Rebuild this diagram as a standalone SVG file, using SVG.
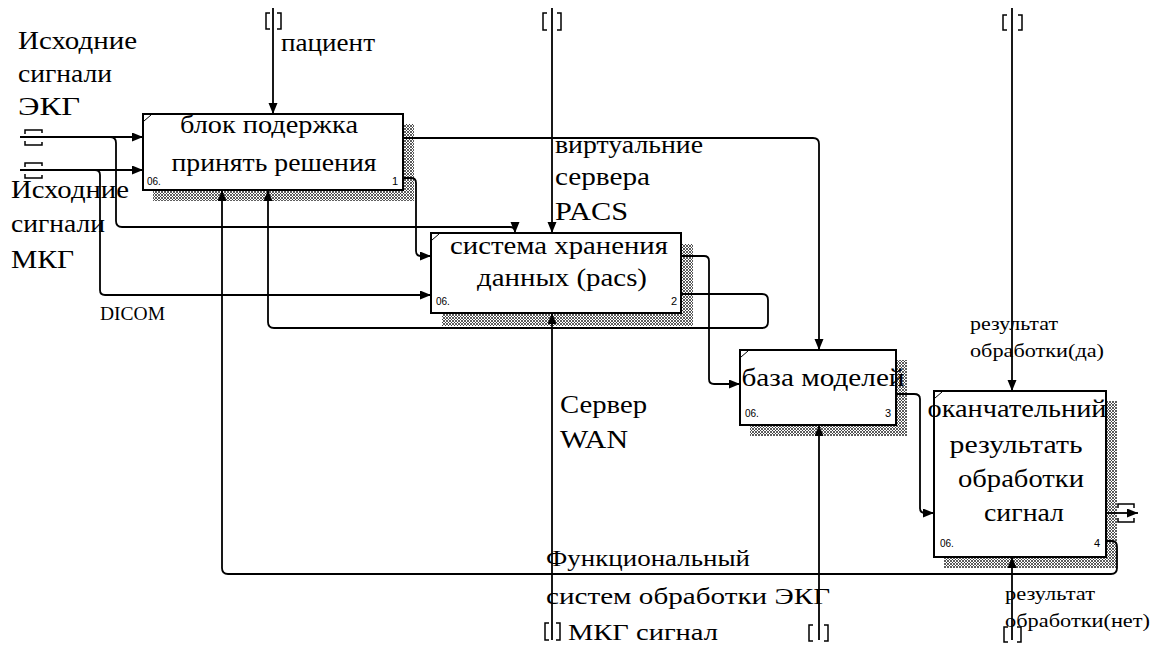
<svg xmlns="http://www.w3.org/2000/svg" width="1155" height="645" viewBox="0 0 1155 645">
<style>
.box{fill:#fff;stroke:#000;stroke-width:2}
.sh{fill:url(#hatch)}
.tick{stroke:#000;stroke-width:1;fill:none}
.ln{fill:none;stroke:#000;stroke-width:1.8}
.br{fill:none;stroke:#000;stroke-width:1.5}
.t{font-family:"Liberation Serif","Times New Roman",serif;font-size:25px;fill:#000}
.tb{font-family:"Liberation Serif","Times New Roman",serif;font-size:25px;fill:#000;text-anchor:middle}
.tm{font-family:"Liberation Serif","Times New Roman",serif;font-size:23px;fill:#000}
.ts{font-family:"Liberation Serif","Times New Roman",serif;font-size:19px;fill:#000}
.tn{font-family:"Liberation Sans",Arial,sans-serif;font-size:10px;fill:#000}
.te{font-family:"Liberation Sans",Arial,sans-serif;font-size:11px;fill:#000;text-anchor:end}
</style>
<defs>
<pattern id="hatch" width="3" height="3" patternUnits="userSpaceOnUse">
<rect width="3" height="3" fill="#fff"/>
<path d="M0,0L3,3M3,0L0,3" stroke="#333" stroke-width="0.8"/>
</pattern>
<marker id="ah" markerUnits="userSpaceOnUse" markerWidth="12" markerHeight="10" refX="11" refY="4.5" orient="auto">
<path d="M0,0L11,4.5L0,9z" fill="#000"/>
</marker>
</defs>

<g id="node1">
<rect class="sh" x="153" y="124" width="261" height="77"/>
<rect class="box" x="143" y="114" width="260" height="76"/>
<path class="tick" d="M144,121L151,115"/>
<text class="tb" x="269" y="133" textLength="178" lengthAdjust="spacingAndGlyphs">блок подержка</text>
<text class="tb" x="274" y="171" textLength="205" lengthAdjust="spacingAndGlyphs">принять решения</text>
<text class="tn" x="147" y="185">06.</text>
<text class="te" x="398" y="185">1</text>
</g>

<g id="node2">
<rect class="sh" x="442" y="244" width="251" height="82"/>
<rect class="box" x="431" y="233" width="250" height="80"/>
<path class="tick" d="M432,240L439,234"/>
<text class="tb" x="559" y="254" textLength="218" lengthAdjust="spacingAndGlyphs">система хранения</text>
<text class="tb" x="562" y="286" textLength="170" lengthAdjust="spacingAndGlyphs">данных (pacs)</text>
<text class="tn" x="436" y="305">06.</text>
<text class="te" x="677" y="305">2</text>
</g>

<g id="node3">
<rect class="sh" x="750" y="360" width="157" height="76"/>
<rect class="box" x="740" y="350" width="156" height="75"/>
<path class="tick" d="M741,357L748,351"/>
<text class="tb" x="823" y="386" textLength="163" lengthAdjust="spacingAndGlyphs">база моделей</text>
<text class="tn" x="745" y="417">06.</text>
<text class="te" x="891" y="417">3</text>
</g>

<g id="node4">
<rect class="sh" x="944" y="401" width="173" height="167"/>
<rect class="box" x="934" y="391" width="172" height="166"/>
<path class="tick" d="M935,398L942,392"/>
<text class="tb" x="1017" y="417" textLength="179" lengthAdjust="spacingAndGlyphs">оканчательний</text>
<text class="tb" x="1016" y="453" textLength="133" lengthAdjust="spacingAndGlyphs">результать</text>
<text class="tb" x="1021" y="487" textLength="126" lengthAdjust="spacingAndGlyphs">обработки</text>
<text class="tb" x="1024" y="521" textLength="80" lengthAdjust="spacingAndGlyphs">сигнал</text>
<text class="tn" x="940" y="547">06.</text>
<text class="te" x="1100" y="547">4</text>
</g>

<g id="connectors">
<path class="ln" d="M20,137H143" marker-end="url(#ah)"/>
<path class="ln" d="M20,170H143" marker-end="url(#ah)"/>
<path class="ln" d="M110,137Q116,137 116,143V221Q116,227 122,227H510Q515,227 515,232V233" marker-end="url(#ah)"/>
<path class="ln" d="M95,170Q100,170 100,175V290Q100,295 105,295H431" marker-end="url(#ah)"/>
<path class="ln" d="M403,138H813Q819,138 819,144V350" marker-end="url(#ah)"/>
<path class="ln" d="M403,178H411Q416,178 416,183V251Q416,256 421,256H431" marker-end="url(#ah)"/>
<path class="ln" d="M681,256H704Q709,256 709,261V379Q709,384 714,384H740" marker-end="url(#ah)"/>
<path class="ln" d="M681,294H762Q768,294 768,300V322Q768,328 762,328H274Q268,328 268,322V190" marker-end="url(#ah)"/>
<path class="ln" d="M896,394H914Q920,394 920,399V508Q920,513 925,513H934" marker-end="url(#ah)"/>
<path class="ln" d="M1106,513H1138" marker-end="url(#ah)"/>
<path class="ln" d="M1106,541H1112Q1117,541 1117,547V568Q1117,574 1111,574H228Q222,574 222,568V190" marker-end="url(#ah)"/>
<path class="ln" d="M273,8V114" marker-end="url(#ah)"/>
<path class="ln" d="M552,8V233" marker-end="url(#ah)"/>
<path class="ln" d="M1012,8V391" marker-end="url(#ah)"/>
<path class="ln" d="M552,640V313" marker-end="url(#ah)"/>
<path class="ln" d="M819,640V425" marker-end="url(#ah)"/>
<path class="ln" d="M1012,640V557" marker-end="url(#ah)"/>
<path class="br" d="M270,13H266V29H270M277,13H281V29H277"/>
<path class="br" d="M547,13H543V30H547M557,13H561V30H557"/>
<path class="br" d="M1007,15H1003V30H1007M1018,15H1022V30H1018"/>
<path class="br" d="M549,623H545V640H549M556,623H560V640H556"/>
<path class="br" d="M813,625H809V641H813M824,625H828V641H824"/>
<path class="br" d="M1008,627H1004V642H1008M1017,627H1021V642H1017"/>
<path class="br" d="M25,134V130H42V133M25,141V145H42V142"/>
<path class="br" d="M25,167V163H42V166M25,174V178H42V175"/>
<path class="br" d="M1118,508V504H1134V508M1118,518V522H1134V518"/>
</g>

<g id="labels">
<text class="t" x="18" y="49" textLength="119" lengthAdjust="spacingAndGlyphs">Исходние</text>
<text class="t" x="18" y="82" textLength="94" lengthAdjust="spacingAndGlyphs">сигнали</text>
<text class="t" x="18" y="115" textLength="62" lengthAdjust="spacingAndGlyphs">ЭКГ</text>
<text class="t" x="281" y="51" textLength="94" lengthAdjust="spacingAndGlyphs">пациент</text>
<text class="t" x="11" y="198" textLength="118" lengthAdjust="spacingAndGlyphs">Исходние</text>
<text class="t" x="11" y="232" textLength="94" lengthAdjust="spacingAndGlyphs">сигнали</text>
<text class="t" x="11" y="268" textLength="63" lengthAdjust="spacingAndGlyphs">МКГ</text>
<text class="t" x="555" y="153" textLength="148" lengthAdjust="spacingAndGlyphs">виртуальние</text>
<text class="t" x="555" y="185" textLength="95" lengthAdjust="spacingAndGlyphs">сервера</text>
<text class="t" x="555" y="220" textLength="73" lengthAdjust="spacingAndGlyphs">PACS</text>
<text class="t" x="560" y="413" textLength="87" lengthAdjust="spacingAndGlyphs">Сервер</text>
<text class="t" x="560" y="448" textLength="68" lengthAdjust="spacingAndGlyphs">WAN</text>
<text class="tm" x="546" y="566" textLength="204" lengthAdjust="spacingAndGlyphs">Функциональный</text>
<text class="tm" x="546" y="604" textLength="284" lengthAdjust="spacingAndGlyphs">систем обработки ЭКГ</text>
<text class="tm" x="568" y="640" textLength="150" lengthAdjust="spacingAndGlyphs">МКГ сигнал</text>
<text class="ts" x="970" y="330" textLength="88" lengthAdjust="spacingAndGlyphs">результат</text>
<text class="ts" x="970" y="357" textLength="134" lengthAdjust="spacingAndGlyphs">обработки(да)</text>
<text class="ts" x="1005" y="600" textLength="90" lengthAdjust="spacingAndGlyphs">результат</text>
<text class="ts" x="1005" y="627" textLength="145" lengthAdjust="spacingAndGlyphs">обработки(нет)</text>
<text class="ts" x="100" y="320" font-size="17" textLength="65" lengthAdjust="spacingAndGlyphs">DICOM</text>
</g>
</svg>
